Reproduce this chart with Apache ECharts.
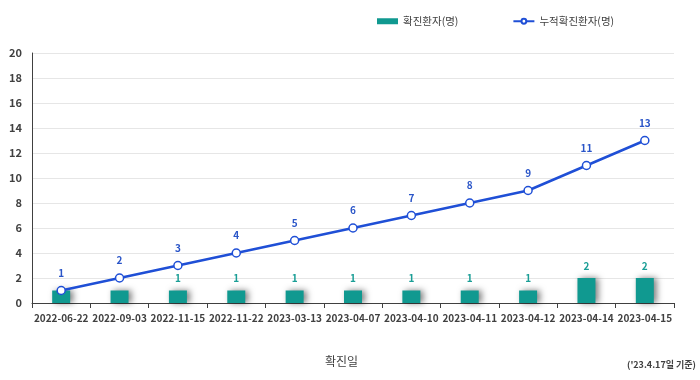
<!DOCTYPE html>
<html><head><meta charset="utf-8">
<script src="https://cdn.jsdelivr.net/npm/echarts@6/dist/echarts.min.js"></script>
<style>html,body{margin:0;padding:0;background:#fff}#c{width:700px;height:380px}</style>
</head><body><div id="c"></div>
<script>
var categories = ['2022-06-22','2022-09-03','2022-11-15','2022-11-22','2023-03-13','2023-04-07','2023-04-10','2023-04-11','2023-04-12','2023-04-14','2023-04-15'];
var dailyCases = [1,1,1,1,1,1,1,1,1,2,2];
var cumulativeCases = [1,2,3,4,5,6,7,8,9,11,13];
var yTicks = [0,2,4,6,8,10,12,14,16,18,20];
var barName = '확진환자(명)';
var lineName = '누적확진환자(명)';
var xName = '확진일';
var note = "('23.4.17일 기준)";

var font = '"Noto Sans CJK KR", "Noto Sans", sans-serif';
// bar labels hidden where they would collide with the line's label
var barData = dailyCases.map(function(v, i){
  return (cumulativeCases[i] - v) < 1.5 ? {value: v, label: {show: false}} : v;
});
var chart = echarts.init(document.getElementById('c'));
chart.setOption({
  animation: false,
  textStyle: {fontFamily: font},
  legend: {
    top: 11, left: 372, itemGap: 54, itemWidth: 21, itemHeight: 6,
    textStyle: {fontSize: 10.5, color: '#404040', fontFamily: font},
    data: [{name: barName, icon: 'rect'}, {name: lineName}]
  },
  grid: {left: 32, right: 26, top: 53, bottom: 77},
  graphic: [
    {type: 'text', left: 325, top: 355, style: {text: xName, font: '12px ' + font, fill: '#404040'}},
    {type: 'text', right: 4, top: 360, style: {text: note, font: 'bold 9px ' + font, fill: '#404040'}}
  ],
  xAxis: {
    type: 'category', data: categories,
    axisLine: {lineStyle: {color: '#404040', width: 1}},
    axisTick: {show: true, length: 5, lineStyle: {color: '#404040'}},
    axisLabel: {color: '#404040', fontSize: 10, fontWeight: 'bold', margin: 10, interval: 0}
  },
  yAxis: {
    type: 'value', min: 0, max: 20, interval: 2,
    axisLine: {show: true, lineStyle: {color: '#404040'}},
    axisTick: {show: false},
    axisLabel: {color: '#404040', fontSize: 11, fontWeight: 'bold', margin: 10,
      formatter: function(v){ return yTicks.indexOf(v) >= 0 ? String(v) : ''; }},
    splitLine: {lineStyle: {color: '#e6e6e6'}}
  },
  series: [
    {
      name: barName, type: 'bar', data: barData, barWidth: 18,
      itemStyle: {color: '#109990', shadowColor: 'rgba(0,0,0,0.5)', shadowBlur: 6, shadowOffsetX: 3, shadowOffsetY: 0},
      label: {show: true, position: 'top', distance: 7, color: '#1a9e96', fontSize: 10, fontWeight: 'bold'}
    },
    {
      name: lineName, type: 'line', data: cumulativeCases,
      symbol: 'circle', symbolSize: 8,
      lineStyle: {color: '#1f4fd6', width: 2.5},
      itemStyle: {color: '#ffffff', borderColor: '#1f4fd6', borderWidth: 1.5},
      label: {show: true, position: 'top', distance: 8, color: '#2a55c8', fontSize: 10, fontWeight: 'bold'},
      z: 5
    }
  ]
});
</script></body></html>
